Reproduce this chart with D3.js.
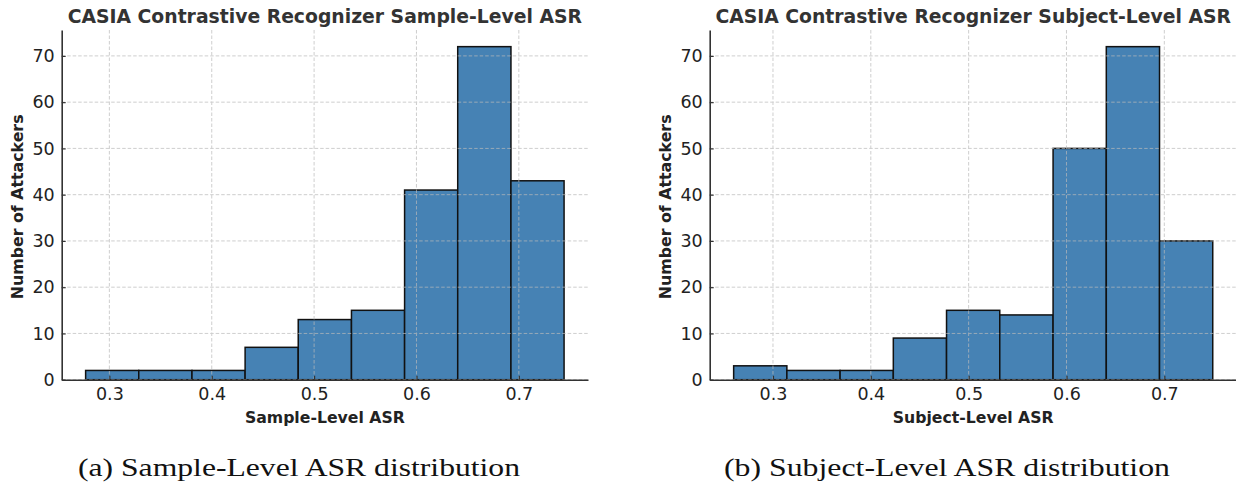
<!DOCTYPE html>
<html>
<head>
<meta charset="utf-8">
<script src="https://cdn.jsdelivr.net/npm/d3@7"></script>
<style>
  html, body { margin: 0; padding: 0; background: #fff; }
  svg { display: block; }
</style>
</head>
<body>
<svg id="chart" width="1236" height="485"></svg>
<script>
// ---- data ----
const sampleEdges = [0.2768, 0.3287, 0.3807, 0.4326, 0.4845, 0.5365, 0.5884, 0.6403, 0.6923, 0.7442];
const sampleCounts = [2, 2, 2, 7, 13, 15, 41, 72, 43];
const subjectEdges = [0.2598, 0.3142, 0.3686, 0.4230, 0.4774, 0.5318, 0.5863, 0.6407, 0.6951, 0.7495];
const subjectCounts = [3, 2, 2, 9, 15, 14, 50, 72, 30];
const xTicks = [0.3, 0.4, 0.5, 0.6, 0.7];
const yTicks = [0, 10, 20, 30, 40, 50, 60, 70];
const titles = ["CASIA Contrastive Recognizer Sample-Level ASR", "CASIA Contrastive Recognizer Subject-Level ASR"];
const xLabels = ["Sample-Level ASR", "Subject-Level ASR"];
const yLabel = "Number of Attackers";
const captions = ["(a) Sample-Level ASR distribution", "(b) Subject-Level ASR distribution"];

const svg = d3.select("#chart");

const panels = [
  {edges: sampleEdges, counts: sampleCounts, left: 61.7, right: 588, title: titles[0], xlabel: xLabels[0], caption: captions[0], capX: 299, capW: 442, ylabX: 23},
  {edges: subjectEdges, counts: subjectCounts, left: 709.7, right: 1236.7, title: titles[1], xlabel: xLabels[1], caption: captions[1], capX: 947, capW: 446, ylabX: 671}
];
const plotTop = 30, plotBottom = 379.7;

panels.forEach(p => {
  const e0 = p.edges[0], e1 = p.edges[p.edges.length - 1];
  const m = (e1 - e0) * 0.05;
  const x = d3.scaleLinear().domain([e0 - m, e1 + m]).range([p.left, p.right]);
  const ymax = d3.max(p.counts) * 1.05;
  const y = d3.scaleLinear().domain([0, ymax]).range([plotBottom, plotTop]);

  const g = svg.append("g");

  const bins = p.counts.map((c, i) => ({x0: p.edges[i], x1: p.edges[i + 1], c}));

  // bars
  g.selectAll("rect.bar").data(bins).enter().append("rect")
    .attr("class", "bar")
    .attr("x", d => x(d.x0))
    .attr("width", d => x(d.x1) - x(d.x0))
    .attr("y", d => y(d.c))
    .attr("height", d => y(0) - y(d.c))
    .attr("fill", "#4682b4")
    .attr("stroke", "#111")
    .attr("stroke-width", 1.5);

  // grid (on top)
  const grid = g.append("g").attr("opacity", 0.7);
  grid.selectAll("line.vg").data(xTicks).enter().append("line")
    .attr("x1", d => x(d)).attr("x2", d => x(d))
    .attr("y1", plotTop).attr("y2", plotBottom)
    .attr("stroke", "#bbb").attr("stroke-width", 1).attr("stroke-dasharray", "3.5,2");
  grid.selectAll("line.hg").data(yTicks).enter().append("line")
    .attr("y1", d => y(d)).attr("y2", d => y(d))
    .attr("x1", p.left).attr("x2", p.right)
    .attr("stroke", "#bbb").attr("stroke-width", 1).attr("stroke-dasharray", "3.5,2");

  // axes
  const xAxis = d3.axisBottom(x).tickValues(xTicks).tickFormat(d3.format(".1f")).tickSizeInner(-4).tickSizeOuter(0).tickPadding(10);
  const yAxis = d3.axisLeft(y).tickValues(yTicks).tickFormat(d3.format("d")).tickSizeInner(-4).tickSizeOuter(0).tickPadding(10);

  const gx = g.append("g").attr("transform", `translate(0,${plotBottom})`).call(xAxis);
  const gy = g.append("g").attr("transform", `translate(${p.left},0)`).call(yAxis);
  [gx, gy].forEach(a => {
    a.select(".domain").attr("stroke", "#333").attr("stroke-width", 1.6);
    a.selectAll(".tick line").attr("stroke", "#333").attr("stroke-width", 1.2);
    a.selectAll(".tick text").attr("fill", "#222").style("font-family", "DejaVu Sans").style("font-size", "17.5px");
  });
  gx.selectAll(".tick text").attr("dy", "0.71em").attr("y", 8);
  gy.selectAll(".tick text").attr("x", -7);

  // title
  g.append("text")
    .attr("x", (p.left + p.right) / 2).attr("y", 23)
    .attr("text-anchor", "middle")
    .style("font-family", "DejaVu Sans").style("font-weight", "bold").style("font-size", "18.8px")
    .attr("fill", "#333")
    .text(p.title);

  // x label
  g.append("text")
    .attr("x", (p.left + p.right) / 2).attr("y", 423)
    .attr("text-anchor", "middle")
    .style("font-family", "DejaVu Sans").style("font-weight", "bold").style("font-size", "15.7px")
    .attr("fill", "#222")
    .text(p.xlabel);

  // y label
  g.append("text")
    .attr("transform", `translate(${p.ylabX},${(plotTop + plotBottom) / 2 + 2}) rotate(-90)`)
    .attr("text-anchor", "middle")
    .style("font-family", "DejaVu Sans").style("font-weight", "bold").style("font-size", "15.8px")
    .attr("fill", "#222")
    .text(yLabel);

  // caption
  g.append("text")
    .attr("x", p.capX).attr("y", 476)
    .attr("text-anchor", "middle")
    .style("font-family", "Liberation Serif").style("font-size", "26px")
    .attr("fill", "#111")
    .attr("textLength", p.capW).attr("lengthAdjust", "spacingAndGlyphs")
    .text(p.caption);
});
</script>
</body>
</html>
